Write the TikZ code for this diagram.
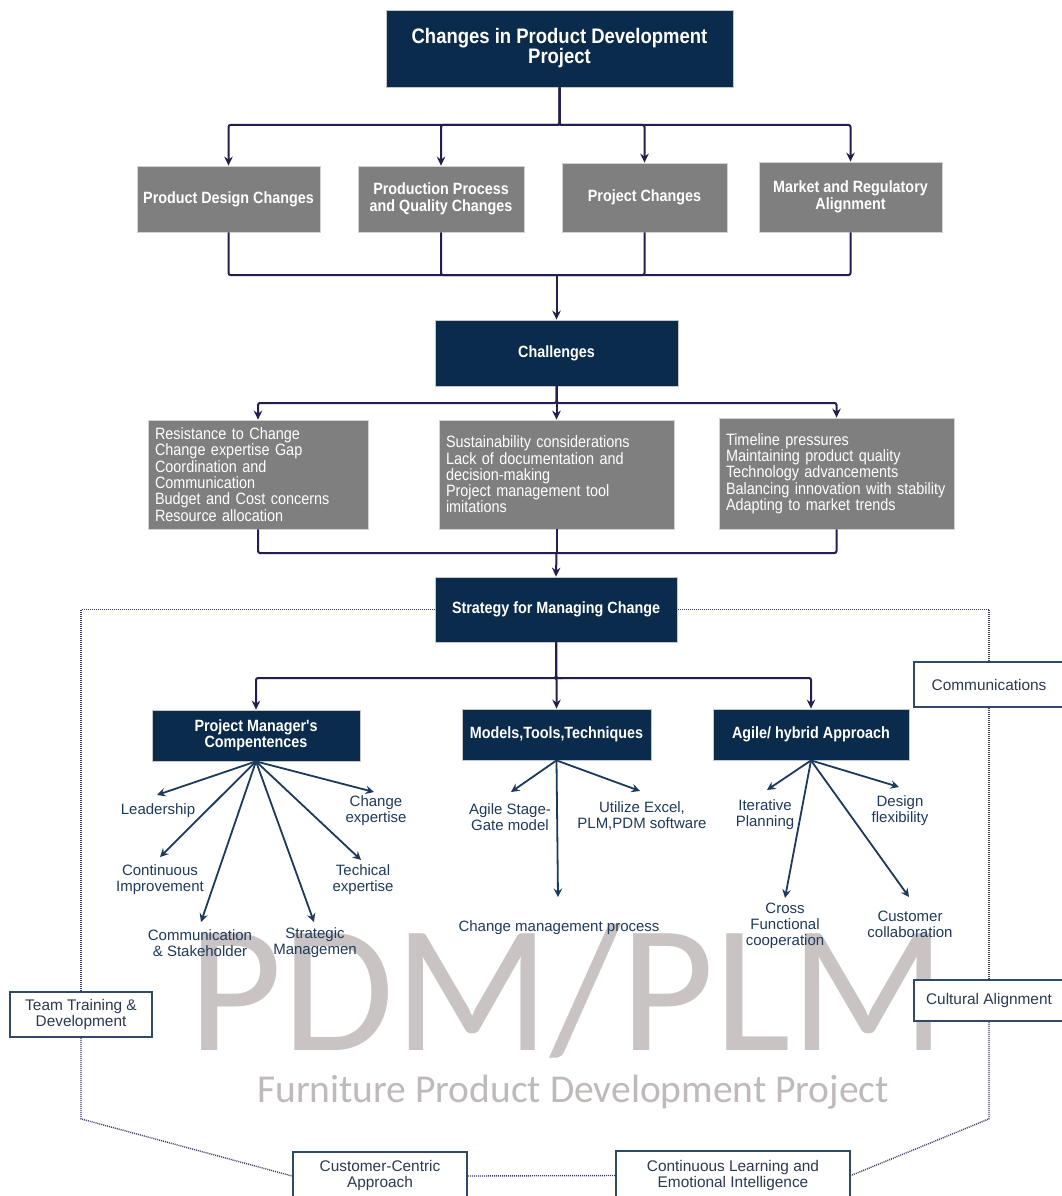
\documentclass[tikz,border=0pt]{standalone}
\usepackage{fontspec}
\setmainfont{Liberation Sans}
\newfontfamily\condfont[FakeStretch=0.88]{Liberation Sans}
\newfontfamily\markfont{Carlito}
\usetikzlibrary{arrows.meta}

\definecolor{navyfill}{HTML}{0B2B4C}
\definecolor{greyfill}{HTML}{7F7F7F}
\definecolor{wirecol}{HTML}{221E50}
\definecolor{raycol}{HTML}{1B3A5C}
\definecolor{labelcol}{HTML}{1F3A5A}
\definecolor{framecol}{HTML}{2E4A66}
\definecolor{sidetext}{HTML}{2B3A4F}
\definecolor{dotcol}{HTML}{3A3C66}
\definecolor{markcol}{HTML}{CAC3C3}
\definecolor{markcoltwo}{HTML}{BFB9B9}

\begin{document}
\begin{tikzpicture}[x=1pt,y=-1pt,
  navybox/.style={draw=gray!45, line width=0.8pt, fill=navyfill, text=white, align=center,
    inner sep=0pt, font=\condfont\bfseries\fontsize{16.3}{16.5}\selectfont},
  greybox/.style={draw=gray!35, line width=0.8pt, fill=greyfill, text=white, align=center,
    inner sep=0pt, font=\condfont\bfseries\fontsize{16.3}{17}\selectfont},
  listbox/.style={draw=gray!35, line width=0.8pt, fill=greyfill, text=white, align=left,
    inner xsep=7pt, inner ysep=0pt, font=\condfont\fontsize{16.4}{16.3}\selectfont},
  sidebox/.style={draw=framecol, line width=1.8pt, fill=white, text=sidetext, align=center,
    inner sep=0pt, font=\fontsize{15.4}{16}\selectfont},
  itemlabel/.style={text=labelcol, align=center, inner sep=1pt, font=\fontsize{15}{16}\selectfont},
  wire/.style={draw=wirecol, line width=2pt, rounded corners=2pt},
  wirearrow/.style={wire, -{Stealth[length=9pt,width=8.5pt,inset=3pt]}},
  ray/.style={draw=raycol, line width=1.8pt, -{Stealth[length=8.5pt,width=8.5pt,inset=3pt]}},
  frameline/.style={draw=dotcol, line width=1.4pt, dash pattern=on 1pt off 1pt},
]
\fill[white] (0,0) rectangle (1061,1196);
\useasboundingbox (0,0) rectangle (1061,1196);

% background lettering
\node[font=\markfont\fontsize{182}{182}\selectfont, text=markcol, anchor=base, inner sep=0pt]
  (wmA) at (567.5,1050) {PDM/PLM};
\node[font=\markfont\fontsize{39.5}{39.5}\selectfont, text=markcoltwo, anchor=base, inner sep=0pt]
  (wmB) at (573,1102) {Furniture Product Development Project};

% level 1
\node[navybox, minimum width=347pt, minimum height=77pt,
  font=\condfont\bfseries\fontsize{21}{20}\selectfont] (top) at (559.5,48.5)
  {Changes in Product Development\\Project};

\node[greybox, minimum width=183pt, minimum height=66pt] (g1) at (228.5,199) {Product Design Changes};
\node[greybox, minimum width=166pt, minimum height=66pt] (g2) at (441,199) {Production Process\\and Quality Changes};
\node[greybox, minimum width=165pt, minimum height=69pt] (g3) at (644.5,197.5) {Project Changes};
\node[greybox, minimum width=183pt, minimum height=70pt] (g4) at (850.5,197) {Market and Regulatory\\Alignment};

\node[navybox, minimum width=243pt, minimum height=66pt] (chal) at (556.5,353) {Challenges};

\node[listbox, text width=206pt, minimum height=109pt] (c1) at (258,474.5)
  {Resistance to Change\\Change expertise Gap\\Coordination and\\Communication\\Budget and Cost concerns\\Resource allocation};
\node[listbox, text width=221pt, minimum height=109pt] (c2) at (556.5,474.5)
  {Sustainability considerations\\Lack of documentation and\\decision-making\\Project management tool\\imitations};
\node[listbox, text width=221pt, minimum height=111pt] (c3) at (836.5,473.5)
  {Timeline pressures\\Maintaining product quality\\Technology advancements\\Balancing innovation with stability\\Adapting to market trends};

\node[navybox, minimum width=242pt, minimum height=65pt] (strat) at (556,609.5) {Strategy for Managing Change};

\node[navybox, minimum width=208pt, minimum height=51pt] (pm) at (256,735.5) {Project Manager's\\Compentences};
\node[navybox, minimum width=189pt, minimum height=51pt] (mtt) at (556.5,734.5) {Models,Tools,Techniques};
\node[navybox, minimum width=196pt, minimum height=51pt] (agile) at (811,734.5) {Agile/ hybrid Approach};

% connectors of the upper tree
\coordinate (topbus) at (559.5,125);
\foreach \g in {g1,g2,g3,g4} \draw[wirearrow] (top.south) -- (topbus) -| (\g.north);
\coordinate (gjoin) at (556.5,275);
\foreach \g in {g1,g2,g3,g4} \draw[wire] (\g.south) |- (gjoin);
\draw[wirearrow] (gjoin) -- (chal.north);

\coordinate (chbus) at (556.5,403);
\foreach \c in {c1,c2,c3} \draw[wirearrow] (chal.south) -- (chbus) -| (\c.north);
\coordinate (cjoin) at (556.5,553);
\foreach \c in {c1,c2,c3} \draw[wire] (\c.south) |- (cjoin);
\draw[wirearrow] (cjoin) -- (strat.north);

\coordinate (stbus) at (556,678);
\foreach \b in {pm,mtt,agile} \draw[wirearrow] (strat.south) -- (stbus) -| (\b.north);

% item labels
\node[itemlabel] (lead)   at (158,811) {Leadership};
\node[itemlabel] (contimp) at (160,880) {Continuous\\Improvement};
\node[itemlabel] (commst) at (200,943) {Communication\\\& Stakeholder};
\node[itemlabel] (stratm) at (315,943) {Strategic\\Managemen};
\node[itemlabel] (techx)  at (363,880) {Techical\\expertise};
\node[itemlabel] (chgx)   at (376,811) {Change\\expertise};

\node[itemlabel] (stage)  at (510,817) {Agile Stage-\\Gate model};
\node[itemlabel] (excel)  at (642,816) {Utilize Excel,\\PLM,PDM software};
\node[itemlabel] (cmp)    at (559,928) {Change management process};

\node[itemlabel] (iter)   at (765,815) {Iterative\\Planning};
\node[itemlabel] (design) at (900,811) {Design\\flexibility};
\node[itemlabel] (cross)  at (785,926) {Cross\\Functional\\cooperation};
\node[itemlabel] (custc)  at (910,924) {Customer\\collaboration};

% arrow ends above the labels
\coordinate (tLead)   at (157,795);
\coordinate (tCont)   at (160,857);
\coordinate (tComm)   at (201,922);
\coordinate (tStrat)  at (314,922);
\coordinate (tTech)   at (361,860);
\coordinate (tChg)    at (374,792);
\coordinate (tStage)  at (511,792);
\coordinate (tExcel)  at (640,791);
\coordinate (tCmp)    at (558,897);
\coordinate (tIter)   at (767,790);
\coordinate (tDesign) at (899,787);
\coordinate (tCross)  at (785,898);
\coordinate (tCust)   at (909,897);

\foreach \t in {tLead,tCont,tComm,tStrat,tTech,tChg} \draw[ray] (pm.south) -- (\t);
\foreach \t in {tStage,tExcel,tCmp} \draw[ray] (mtt.south) -- (\t);
\foreach \t in {tIter,tDesign,tCross,tCust} \draw[ray] (agile.south) -- (\t);

% dotted ring of supporting factors
\node[sidebox, minimum width=150pt, minimum height=45pt] (comm)  at (989,684.5) {Communications};
\node[sidebox, minimum width=150pt, minimum height=41pt] (cult)  at (989,1000.5) {Cultural Alignment};
\node[sidebox, minimum width=142pt, minimum height=45pt] (team)  at (81,1014.5) {Team Training \&\\Development};
\node[sidebox, minimum width=174pt, minimum height=48pt] (cust)  at (380,1176) {Customer-Centric\\Approach};
\node[sidebox, minimum width=234pt, minimum height=49pt] (learn) at (733,1175.5) {Continuous Learning and\\Emotional Intelligence};

\draw[frameline] (strat.west) -| (team.north);
\draw[frameline] (team.south) -- ++(0,81) -- (cust.west);
\draw[frameline] (cust.east) -- (learn.west);
\draw[frameline] (cult.south) -- ++(0,97) -- (learn.east);
\draw[frameline] (cult.north) -- (comm.south);
\draw[frameline] (comm.north) |- (strat.east);
\end{tikzpicture}
\end{document}
